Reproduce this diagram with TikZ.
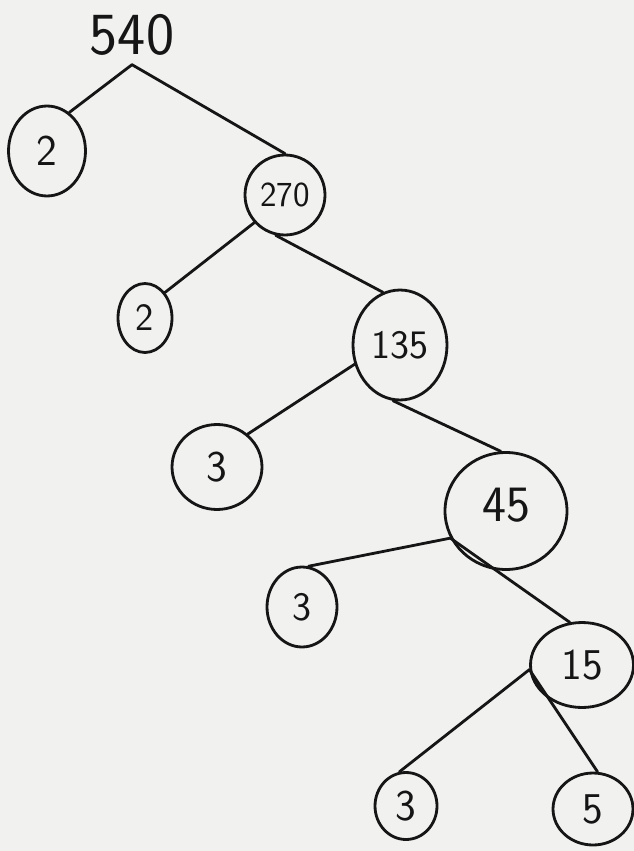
\documentclass[tikz,border=0pt]{standalone}
\usetikzlibrary{positioning,shapes.geometric}
\definecolor{Paper}{HTML}{F1F1F0}
\definecolor{Ink}{HTML}{151515}

\begin{document}
\begin{tikzpicture}[
  x=0.02cm, y=-0.02cm,
  fac/.style={draw=Ink, ellipse, line width=1.6pt, inner sep=0pt, text=Ink},
  br/.style={draw=Ink, line width=1.6pt, line cap=round}
]
\fill[Paper] (0,0) rectangle (634,851);
\useasboundingbox (0,0) rectangle (634,851);

% the number and its factors
\node[inner sep=5pt, text=Ink, font=\sffamily\fontsize{34}{36}\selectfont] (n540) at (132,35) {540};
\node[fac, minimum width=1.54cm, minimum height=1.8cm, font=\sffamily\fontsize{25}{28}\selectfont] (n2a) at (47,151) {2};
\node[fac, minimum width=1.6cm, minimum height=1.6cm, font=\sffamily\fontsize{20}{22}\selectfont] (n270) at (285,195) {270};
\node[fac, minimum width=1.08cm, minimum height=1.38cm, font=\sffamily\fontsize{22}{24}\selectfont] (n2b) at (145,318) {2};
\node[fac, minimum width=1.88cm, minimum height=2.2cm, font=\sffamily\fontsize{23}{25}\selectfont] (n135) at (400,345) {135};
\node[fac, minimum width=1.8cm, minimum height=1.7cm, font=\sffamily\fontsize{25}{27}\selectfont] (n3a) at (217,467) {3};
\node[fac, minimum width=2.44cm, minimum height=2.34cm, font=\sffamily\fontsize{29}{31}\selectfont] (n45) at (506,511) {\raisebox{0.25cm}{45}};
\node[fac, minimum width=1.4cm, minimum height=1.6cm, font=\sffamily\fontsize{23}{25}\selectfont] (n3b) at (302,607) {3};
\node[fac, minimum width=2.06cm, minimum height=1.7cm, font=\sffamily\fontsize{25}{27}\selectfont] (n15) at (582,665) {15};
\node[fac, minimum width=1.24cm, minimum height=1.34cm, font=\sffamily\fontsize{25}{27}\selectfont] (n3c) at (406,806) {3};
\node[fac, minimum width=1.6cm, minimum height=1.44cm, font=\sffamily\fontsize{25}{27}\selectfont] (n5) at (593,809) {5};

% branches
\draw[br] (n540.south) -- (n2a.60);
\draw[br] (n540.south) -- (n270.90);
\draw[br] (n270.222) -- (n2b.52);
\draw[br] (n270.257) -- (n135.108);
\draw[br] (n135.203) -- (n3a.47);
\draw[br] (n135.263) -- (n45.95);
\draw[br] (n45.206) -- (n3b.81);
\draw[br] (n45.206) -- (n15.106);
\draw[br] (n15.185) -- (n3c.101);
\draw[br] (n15.185) -- (n5.83);
\end{tikzpicture}
\end{document}
